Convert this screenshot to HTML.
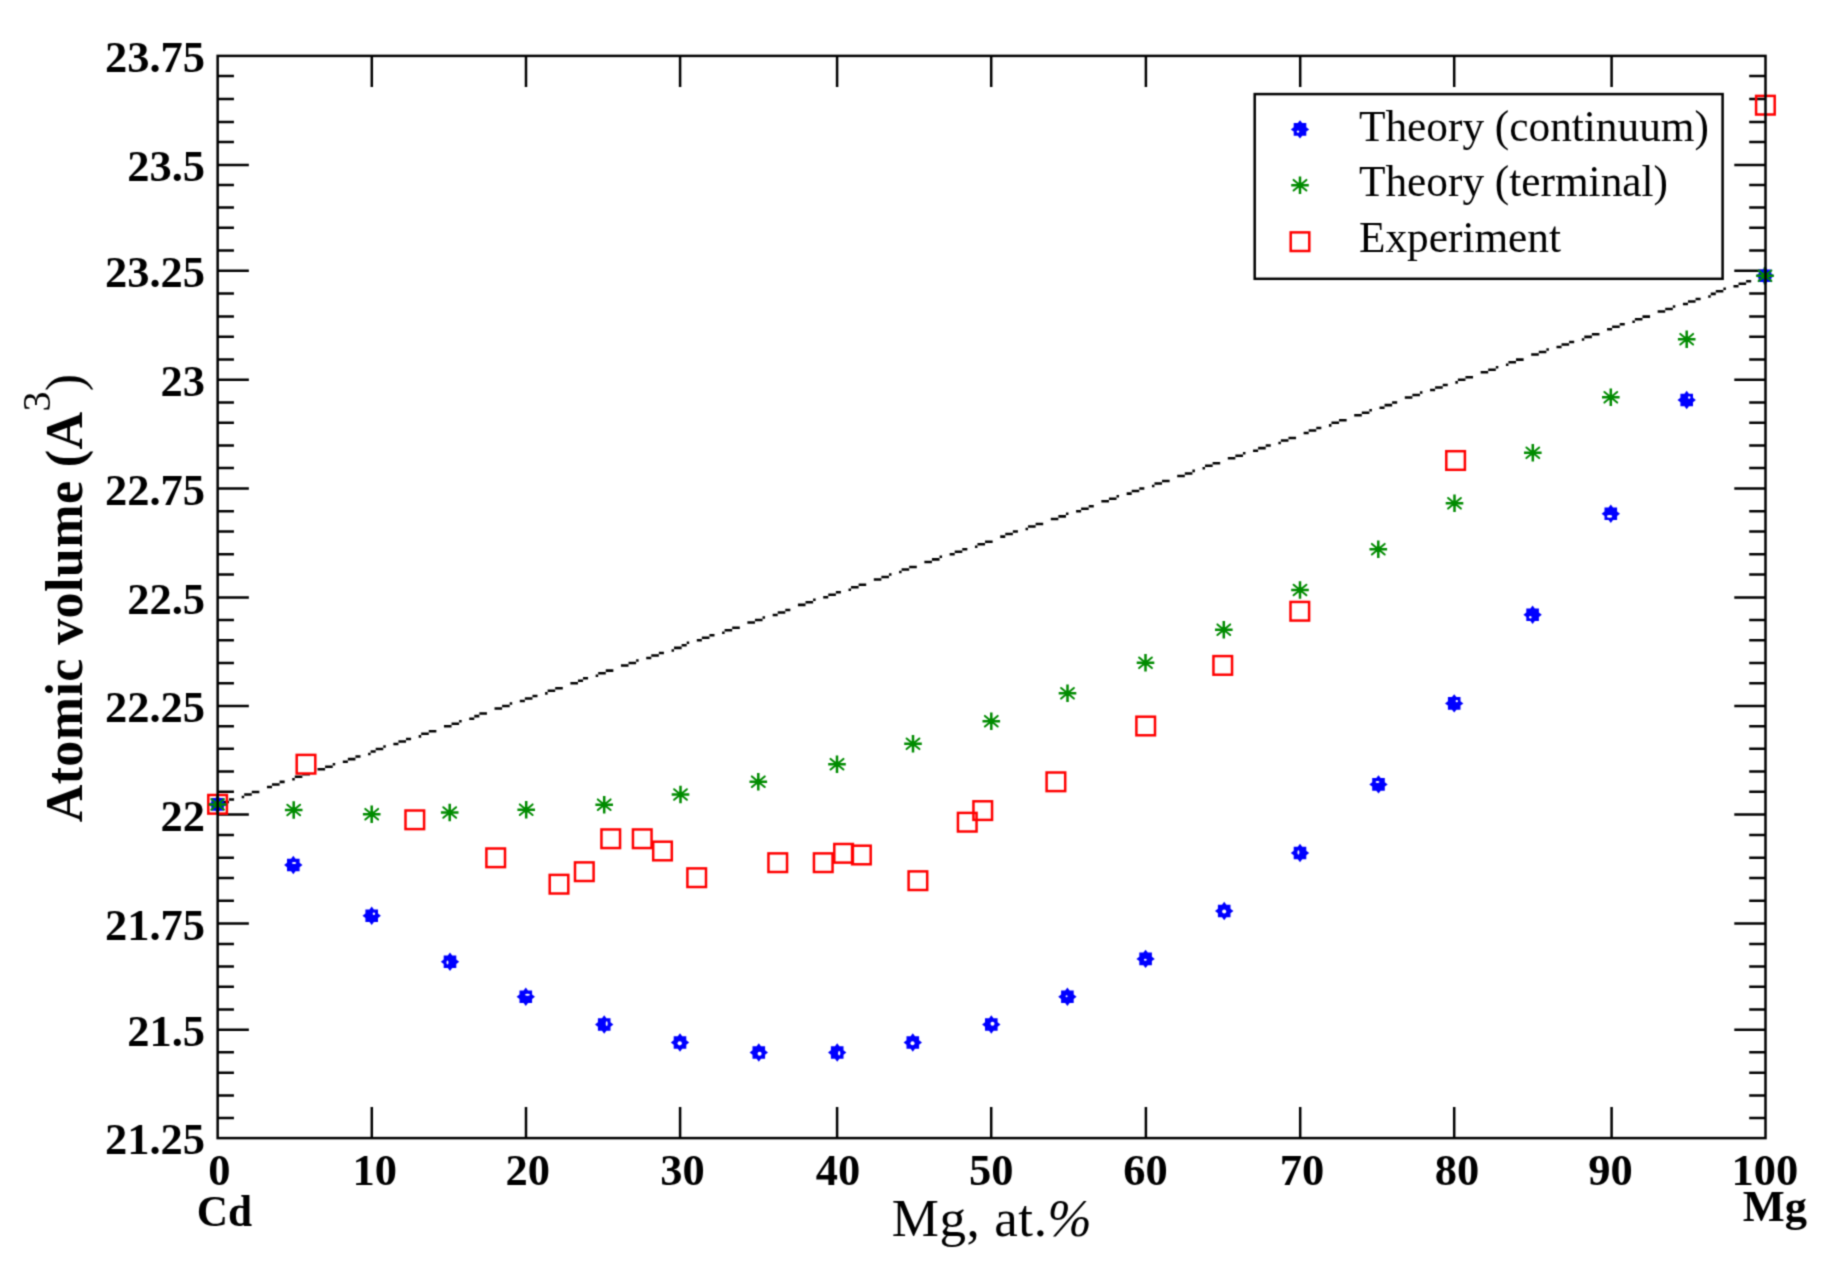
<!DOCTYPE html>
<html><head><meta charset="utf-8"><title>Atomic volume vs Mg at.%</title>
<style>
html,body{margin:0;padding:0;background:#fff;}
body{width:1824px;height:1277px;overflow:hidden;}
svg{display:block;}
.t{font-family:"Liberation Serif","Times New Roman",serif;fill:#000;}
.b{font-weight:bold;}
</style></head><body>
<svg width="1824" height="1277" viewBox="0 0 1824 1277">
<defs><filter id="soft" x="0" y="0" width="1824" height="1277" filterUnits="userSpaceOnUse" color-interpolation-filters="sRGB"><feConvolveMatrix order="3" kernelMatrix="0.03607 0.11778 0.03607 0.11778 0.38462 0.11778 0.03607 0.11778 0.03607" edgeMode="duplicate"/></filter></defs>
<g filter="url(#soft)">
<rect x="0" y="0" width="1824" height="1277" fill="#fff"/>
<defs>
<path id="mc" d="M0 -9.2 L2.2 -6.3 L6.3 -6.3 L6.3 -2.2 L9.2 0 L6.3 2.2 L6.3 6.3 L2.2 6.3 L0 9.2 L-2.2 6.3 L-6.3 6.3 L-6.3 2.2 L-9.2 0 L-6.3 -2.2 L-6.3 -6.3 L-2.2 -6.3Z" fill="#0000ff"/>
<g id="ma"><path d="M0 -8.8 V8.8 M-8.8 0 H8.8" stroke="#008b00" stroke-width="2.5" fill="none"/><path d="M-6.4 -5.3 L6.4 5.3 M-6.4 5.3 L6.4 -5.3" stroke="#008b00" stroke-width="2" stroke-linecap="round" fill="none"/><circle r="2.9" fill="#008b00"/></g>
<rect id="ms" x="-9.3" y="-9.3" width="18.6" height="18.6" fill="none" stroke="#ff0000" stroke-width="2.5"/>
</defs>
<path d="M217.65 76.1H233.95M1765.5 76.1H1749.2M217.65 99.1H233.95M1765.5 99.1H1749.2M217.65 121.9H233.95M1765.5 121.9H1749.2M217.65 142.05H233.95M1765.5 142.05H1749.2M217.65 164.9H248.85M1765.5 164.9H1734.3M217.65 185H233.95M1765.5 185H1749.2M217.65 207.6H233.95M1765.5 207.6H1749.2M217.65 227.8H233.95M1765.5 227.8H1749.2M217.65 250.6H233.95M1765.5 250.6H1749.2M217.65 270.75H248.85M1765.5 270.75H1734.3M217.65 293.6H233.95M1765.5 293.6H1749.2M217.65 316.6H233.95M1765.5 316.6H1749.2M217.65 336.7H233.95M1765.5 336.7H1749.2M217.65 359.55H233.95M1765.5 359.55H1749.2M217.65 379.7H248.85M1765.5 379.7H1734.3M217.65 402.4H233.95M1765.5 402.4H1749.2M217.65 422.7H233.95M1765.5 422.7H1749.2M217.65 445.4H233.95M1765.5 445.4H1749.2M217.65 468H233.95M1765.5 468H1749.2M217.65 488.4H248.85M1765.5 488.4H1734.3M217.65 511.2H233.95M1765.5 511.2H1749.2M217.65 531.4H233.95M1765.5 531.4H1749.2M217.65 554.2H233.95M1765.5 554.2H1749.2M217.65 574.4H233.95M1765.5 574.4H1749.2M217.65 597.4H248.85M1765.5 597.4H1734.3M217.65 619.9H233.95M1765.5 619.9H1749.2M217.65 640.35H233.95M1765.5 640.35H1749.2M217.65 662.9H233.95M1765.5 662.9H1749.2M217.65 683.3H233.95M1765.5 683.3H1749.2M217.65 705.9H248.85M1765.5 705.9H1734.3M217.65 726.3H233.95M1765.5 726.3H1749.2M217.65 748.75H233.95M1765.5 748.75H1749.2M217.65 771.6H233.95M1765.5 771.6H1749.2M217.65 791.75H233.95M1765.5 791.75H1749.2M217.65 814.6H248.85M1765.5 814.6H1734.3M217.65 835H233.95M1765.5 835H1749.2M217.65 857.85H233.95M1765.5 857.85H1749.2M217.65 878H233.95M1765.5 878H1749.2M217.65 900.85H233.95M1765.5 900.85H1749.2M217.65 923.4H248.85M1765.5 923.4H1734.3M217.65 943.9H233.95M1765.5 943.9H1749.2M217.65 966.4H233.95M1765.5 966.4H1749.2M217.65 986.7H233.95M1765.5 986.7H1749.2M217.65 1009.4H233.95M1765.5 1009.4H1749.2M217.65 1029.7H248.85M1765.5 1029.7H1734.3M217.65 1052.3H233.95M1765.5 1052.3H1749.2M217.65 1072.8H233.95M1765.5 1072.8H1749.2M217.65 1095.4H233.95M1765.5 1095.4H1749.2M217.65 1117.9H233.95M1765.5 1117.9H1749.2M371.8 1138.1V1106.9M371.8 55.9V87.1M526 1138.1V1106.9M526 55.9V87.1M680.1 1138.1V1106.9M680.1 55.9V87.1M837.1 1138.1V1106.9M837.1 55.9V87.1M991.2 1138.1V1106.9M991.2 55.9V87.1M1145.9 1138.1V1106.9M1145.9 55.9V87.1M1300.2 1138.1V1106.9M1300.2 55.9V87.1M1454.2 1138.1V1106.9M1454.2 55.9V87.1M1611.6 1138.1V1106.9M1611.6 55.9V87.1" stroke="#000" stroke-width="2.5" fill="none"/>
<path d="M216.39 803.37H221.44V805.9H216.39ZM221.44 800.84H229.03V803.37H221.44ZM229.03 798.31H234.09V800.84H229.03ZM241.67 795.79H244.2V798.31H241.67ZM244.2 793.26H251.78V795.79H244.2ZM251.78 790.73H259.37V793.26H251.78ZM266.96 785.67H272.01V788.2H266.96ZM272.01 783.14H279.6V785.67H272.01ZM279.6 780.62H284.66V783.14H279.6ZM292.24 778.09H294.77V780.62H292.24ZM294.77 775.56H302.35V778.09H294.77ZM302.35 773.03H309.94V775.56H302.35ZM317.53 767.97H325.11V770.5H317.53ZM325.11 765.44H332.7V767.97H325.11ZM332.7 762.92H335.23V765.44H332.7ZM342.81 760.39H347.87V762.92H342.81ZM347.87 757.86H355.45V760.39H347.87ZM355.45 755.33H360.51V757.86H355.45ZM368.1 752.8H370.62V755.33H368.1ZM370.62 750.27H375.68V752.8H370.62ZM375.68 747.74H383.27V750.27H375.68ZM383.27 745.22H385.8V747.74H383.27ZM393.38 742.69H398.44V745.22H393.38ZM398.44 740.16H406.02V742.69H398.44ZM406.02 737.63H411.08V740.16H406.02ZM418.67 735.1H421.19V737.63H418.67ZM421.19 732.57H428.78V735.1H421.19ZM428.78 730.05H436.37V732.57H428.78ZM443.95 724.99H451.54V727.52H443.95ZM451.54 722.46H459.12V724.99H451.54ZM459.12 719.93H461.65V722.46H459.12ZM469.24 717.4H474.29V719.93H469.24ZM474.29 714.87H479.35V717.4H474.29ZM479.35 712.35H486.94V714.87H479.35ZM494.52 707.29H502.11V709.82H494.52ZM502.11 704.76H509.69V707.29H502.11ZM509.69 702.23H512.22V704.76H509.69ZM519.81 699.7H524.86V702.23H519.81ZM524.86 697.17H532.45V699.7H524.86ZM532.45 694.65H537.51V697.17H532.45ZM545.09 692.12H547.62V694.65H545.09ZM547.62 689.59H555.2V692.12H547.62ZM555.2 687.06H562.79V689.59H555.2ZM570.38 682H577.96V684.53H570.38ZM577.96 679.48H583.02V682H577.96ZM583.02 676.95H588.08V679.48H583.02ZM595.66 674.42H598.19V676.95H595.66ZM598.19 671.89H605.77V674.42H598.19ZM605.77 669.36H613.36V671.89H605.77ZM620.95 664.3H628.53V666.83H620.95ZM628.53 661.78H636.12V664.3H628.53ZM636.12 659.25H638.65V661.78H636.12ZM646.23 656.72H651.29V659.25H646.23ZM651.29 654.19H658.87V656.72H651.29ZM658.87 651.66H663.93V654.19H658.87ZM671.52 649.13H674.04V651.66H671.52ZM674.04 646.6H681.63V649.13H674.04ZM681.63 644.08H686.69V646.6H681.63ZM686.69 641.55H689.22V644.08H686.69ZM696.8 639.02H701.86V641.55H696.8ZM701.86 636.49H709.44V639.02H701.86ZM709.44 633.96H714.5V636.49H709.44ZM722.09 631.43H724.61V633.96H722.09ZM724.61 628.91H732.2V631.43H724.61ZM732.2 626.38H739.79V628.91H732.2ZM747.37 621.32H754.96V623.85H747.37ZM754.96 618.79H762.54V621.32H754.96ZM762.54 616.26H765.07V618.79H762.54ZM772.66 613.73H777.71V616.26H772.66ZM777.71 611.21H785.3V613.73H777.71ZM785.3 608.68H790.36V611.21H785.3ZM797.94 603.62H805.53V606.15H797.94ZM805.53 601.09H813.11V603.62H805.53ZM813.11 598.56H815.64V601.09H813.11ZM823.23 596.03H828.28V598.56H823.23ZM828.28 593.51H835.87V596.03H828.28ZM835.87 590.98H840.93V593.51H835.87ZM848.51 588.45H851.04V590.98H848.51ZM851.04 585.92H858.62V588.45H851.04ZM858.62 583.39H866.21V585.92H858.62ZM873.8 578.34H881.38V580.86H873.8ZM881.38 575.81H888.97V578.34H881.38ZM888.97 573.28H891.5V575.81H888.97ZM899.08 570.75H901.61V573.28H899.08ZM901.61 568.22H909.19V570.75H901.61ZM909.19 565.69H916.78V568.22H909.19ZM924.37 560.64H931.95V563.16H924.37ZM931.95 558.11H939.54V560.64H931.95ZM939.54 555.58H942.07V558.11H939.54ZM949.65 553.05H954.71V555.58H949.65ZM954.71 550.52H962.29V553.05H954.71ZM962.29 547.99H967.35V550.52H962.29ZM974.94 545.46H977.46V547.99H974.94ZM977.46 542.94H985.05V545.46H977.46ZM985.05 540.41H992.64V542.94H985.05ZM1000.22 535.35H1005.28V537.88H1000.22ZM1005.28 532.82H1012.86V535.35H1005.28ZM1012.86 530.29H1017.92V532.82H1012.86ZM1025.51 527.77H1028.03V530.29H1025.51ZM1028.03 525.24H1035.62V527.77H1028.03ZM1035.62 522.71H1043.21V525.24H1035.62ZM1050.79 517.65H1058.38V520.18H1050.79ZM1058.38 515.12H1065.96V517.65H1058.38ZM1065.96 512.59H1068.49V515.12H1065.96ZM1076.08 510.07H1081.13V512.59H1076.08ZM1081.13 507.54H1088.72V510.07H1081.13ZM1088.72 505.01H1093.78V507.54H1088.72ZM1101.36 499.95H1108.95V502.48H1101.36ZM1108.95 497.42H1116.53V499.95H1108.95ZM1116.53 494.89H1119.06V497.42H1116.53ZM1126.65 492.37H1131.7V494.89H1126.65ZM1131.7 489.84H1139.29V492.37H1131.7ZM1139.29 487.31H1144.35V489.84H1139.29ZM1151.93 484.78H1154.46V487.31H1151.93ZM1154.46 482.25H1162.04V484.78H1154.46ZM1162.04 479.72H1169.63V482.25H1162.04ZM1177.22 474.67H1184.8V477.2H1177.22ZM1184.8 472.14H1192.39V474.67H1184.8ZM1192.39 469.61H1194.92V472.14H1192.39ZM1202.5 467.08H1205.03V469.61H1202.5ZM1205.03 464.55H1212.61V467.08H1205.03ZM1212.61 462.02H1220.2V464.55H1212.61ZM1227.79 456.97H1235.37V459.5H1227.79ZM1235.37 454.44H1242.96V456.97H1235.37ZM1242.96 451.91H1245.49V454.44H1242.96ZM1253.07 449.38H1258.13V451.91H1253.07ZM1258.13 446.85H1265.71V449.38H1258.13ZM1265.71 444.32H1270.77V446.85H1265.71ZM1278.36 441.8H1280.88V444.32H1278.36ZM1280.88 439.27H1288.47V441.8H1280.88ZM1288.47 436.74H1296.06V439.27H1288.47ZM1303.64 431.68H1308.7V434.21H1303.64ZM1308.7 429.15H1316.28V431.68H1308.7ZM1316.28 426.63H1321.34V429.15H1316.28ZM1328.93 424.1H1331.45V426.63H1328.93ZM1331.45 421.57H1339.04V424.1H1331.45ZM1339.04 419.04H1346.63V421.57H1339.04ZM1354.21 413.98H1361.8V416.51H1354.21ZM1361.8 411.45H1369.38V413.98H1361.8ZM1369.38 408.93H1371.91V411.45H1369.38ZM1379.5 406.4H1384.55V408.93H1379.5ZM1384.55 403.87H1392.14V406.4H1384.55ZM1392.14 401.34H1397.2V403.87H1392.14ZM1404.78 396.28H1412.37V398.81H1404.78ZM1412.37 393.75H1419.95V396.28H1412.37ZM1419.95 391.23H1422.48V393.75H1419.95ZM1430.07 388.7H1435.12V391.23H1430.07ZM1435.12 386.17H1442.71V388.7H1435.12ZM1442.71 383.64H1447.77V386.17H1442.71ZM1455.35 381.11H1457.88V383.64H1455.35ZM1457.88 378.58H1465.46V381.11H1457.88ZM1465.46 376.06H1473.05V378.58H1465.46ZM1480.64 371H1488.22V373.53H1480.64ZM1488.22 368.47H1495.81V371H1488.22ZM1495.81 365.94H1498.34V368.47H1495.81ZM1505.92 363.41H1508.45V365.94H1505.92ZM1508.45 360.88H1516.03V363.41H1508.45ZM1516.03 358.36H1523.62V360.88H1516.03ZM1531.21 353.3H1538.79V355.83H1531.21ZM1538.79 350.77H1546.38V353.3H1538.79ZM1546.38 348.24H1548.91V350.77H1546.38ZM1556.49 345.71H1561.55V348.24H1556.49ZM1561.55 343.18H1569.13V345.71H1561.55ZM1569.13 340.66H1574.19V343.18H1569.13ZM1581.78 338.13H1584.3V340.66H1581.78ZM1584.3 335.6H1591.89V338.13H1584.3ZM1591.89 333.07H1599.48V335.6H1591.89ZM1607.06 328.01H1612.12V330.54H1607.06ZM1612.12 325.49H1619.7V328.01H1612.12ZM1619.7 322.96H1624.76V325.49H1619.7ZM1632.35 320.43H1634.87V322.96H1632.35ZM1634.87 317.9H1642.46V320.43H1634.87ZM1642.46 315.37H1650.05V317.9H1642.46ZM1657.63 310.31H1665.22V312.84H1657.63ZM1665.22 307.79H1672.8V310.31H1665.22ZM1672.8 305.26H1675.33V307.79H1672.8ZM1682.92 302.73H1687.97V305.26H1682.92ZM1687.97 300.2H1695.56V302.73H1687.97ZM1695.56 297.67H1700.62V300.2H1695.56ZM1708.2 295.14H1710.73V297.67H1708.2ZM1710.73 292.61H1715.79V295.14H1710.73ZM1715.79 290.09H1723.37V292.61H1715.79ZM1723.37 287.56H1725.9V290.09H1723.37ZM1733.49 285.03H1738.54V287.56H1733.49ZM1738.54 282.5H1746.13V285.03H1738.54ZM1746.13 279.97H1751.19V282.5H1746.13ZM1758.77 277.44H1761.3V279.97H1758.77ZM1761.3 274.92H1766.36V277.44H1761.3Z" fill="#000"/>
<use href="#ms" x="217.6" y="804.3"/><use href="#ms" x="306" y="764.2"/><use href="#ms" x="414.8" y="819.8"/><use href="#ms" x="495.7" y="857.8"/><use href="#ms" x="559" y="884.2"/><use href="#ms" x="584.3" y="871.7"/><use href="#ms" x="610.75" y="838.75"/><use href="#ms" x="642.25" y="838.75"/><use href="#ms" x="662.5" y="851"/><use href="#ms" x="696.7" y="877.7"/><use href="#ms" x="777.75" y="862.7"/><use href="#ms" x="823.25" y="862.7"/><use href="#ms" x="843.6" y="853.3"/><use href="#ms" x="861.4" y="855"/><use href="#ms" x="917.9" y="880.7"/><use href="#ms" x="967.25" y="822.2"/><use href="#ms" x="982.75" y="810.6"/><use href="#ms" x="1055.9" y="781.8"/><use href="#ms" x="1145.7" y="726"/><use href="#ms" x="1222.75" y="665.4"/><use href="#ms" x="1299.8" y="611.25"/><use href="#ms" x="1455.6" y="460.5"/><use href="#ms" x="1765.4" y="105.2"/>
<use href="#mc" x="217.6" y="804.4"/><use href="#mc" x="293.3" y="865"/><ellipse cx="294.1" cy="863" rx="2.16" ry="0.96" fill="#fff"/><use href="#mc" x="371.7" y="915.8"/><ellipse cx="373.9" cy="913.8" rx="1.2" ry="1.2" fill="#fff"/><use href="#mc" x="450" y="961.7"/><ellipse cx="447.5" cy="962.5" rx="0.96" ry="1.92" fill="#fff"/><use href="#mc" x="525.8" y="996.7"/><ellipse cx="527.5" cy="994.7" rx="2.4" ry="0.96" fill="#fff"/><use href="#mc" x="604.2" y="1024.5"/><ellipse cx="606.7" cy="1023.7" rx="0.96" ry="2.4" fill="#fff"/><use href="#mc" x="680" y="1042.5"/><ellipse cx="679.7" cy="1043.3" rx="2.16" ry="2.16" fill="#fff"/><use href="#mc" x="758.8" y="1052.5"/><ellipse cx="759.6" cy="1053.7" rx="2.04" ry="2.04" fill="#fff"/><use href="#mc" x="837.2" y="1052.5"/><ellipse cx="839.2" cy="1053.3" rx="1.08" ry="2.28" fill="#fff"/><use href="#mc" x="912.8" y="1042.5"/><ellipse cx="912.5" cy="1043.3" rx="2.04" ry="2.04" fill="#fff"/><use href="#mc" x="991.3" y="1024.5"/><ellipse cx="992.5" cy="1023.7" rx="2.04" ry="2.04" fill="#fff"/><use href="#mc" x="1067.4" y="996.7"/><ellipse cx="1066.6" cy="996.2" rx="0.96" ry="0.96" fill="#fff"/><use href="#mc" x="1145.6" y="958.9"/><ellipse cx="1145.3" cy="959.7" rx="1.44" ry="0.96" fill="#fff"/><use href="#mc" x="1224.2" y="911"/><ellipse cx="1224.2" cy="911.5" rx="2.04" ry="2.04" fill="#fff"/><use href="#mc" x="1300" y="853"/><ellipse cx="1298.4" cy="852.5" rx="0.96" ry="2.16" fill="#fff"/><use href="#mc" x="1378.5" y="784.4"/><ellipse cx="1377.5" cy="782" rx="1.92" ry="0.96" fill="#fff"/><use href="#mc" x="1454.2" y="703.4"/><ellipse cx="1456.8" cy="701.1" rx="1.2" ry="1.2" fill="#fff"/><use href="#mc" x="1532.6" y="614.8"/><ellipse cx="1530.3" cy="617.2" rx="1.2" ry="1.2" fill="#fff"/><use href="#mc" x="1610.8" y="513.8"/><ellipse cx="1609.55" cy="516.4" rx="2.64" ry="1.32" fill="#fff"/><use href="#mc" x="1686.7" y="400"/><ellipse cx="1689.2" cy="397.5" rx="1.2" ry="1.2" fill="#fff"/><use href="#mc" x="1765" y="275.8"/>
<use href="#ma" x="217.6" y="804.4"/><use href="#ma" x="293.7" y="810"/><use href="#ma" x="371.7" y="814.2"/><use href="#ma" x="449.7" y="812.5"/><use href="#ma" x="526.2" y="809.7"/><use href="#ma" x="604.2" y="804.7"/><use href="#ma" x="680.5" y="794.5"/><use href="#ma" x="758.3" y="781.7"/><use href="#ma" x="837" y="764.2"/><use href="#ma" x="913" y="743.8"/><use href="#ma" x="991.3" y="721.2"/><use href="#ma" x="1067.5" y="693.3"/><use href="#ma" x="1145.5" y="662.8"/><use href="#ma" x="1223.8" y="629.7"/><use href="#ma" x="1300" y="590"/><use href="#ma" x="1378.3" y="549.2"/><use href="#ma" x="1454.5" y="503.3"/><use href="#ma" x="1532.8" y="452.8"/><use href="#ma" x="1610.8" y="397.3"/><use href="#ma" x="1686.7" y="339.2"/><use href="#ma" x="1765" y="275.8"/>
<rect x="217.65" y="55.9" width="1547.85" height="1082.2" fill="none" stroke="#000" stroke-width="2.5"/>
<text class="t b" x="205" y="1154.3" font-size="44.5" text-anchor="end">21.25</text>
<text class="t b" x="205" y="1045.9" font-size="44.5" text-anchor="end">21.5</text>
<text class="t b" x="205" y="939.6" font-size="44.5" text-anchor="end">21.75</text>
<text class="t b" x="205" y="830.8" font-size="44.5" text-anchor="end">22</text>
<text class="t b" x="205" y="722.1" font-size="44.5" text-anchor="end">22.25</text>
<text class="t b" x="205" y="613.6" font-size="44.5" text-anchor="end">22.5</text>
<text class="t b" x="205" y="504.6" font-size="44.5" text-anchor="end">22.75</text>
<text class="t b" x="205" y="395.9" font-size="44.5" text-anchor="end">23</text>
<text class="t b" x="205" y="286.95" font-size="44.5" text-anchor="end">23.25</text>
<text class="t b" x="205" y="181.1" font-size="44.5" text-anchor="end">23.5</text>
<text class="t b" x="205" y="72.1" font-size="44.5" text-anchor="end">23.75</text>
<text class="t b" x="219.4" y="1185" font-size="44.5" text-anchor="middle">0</text>
<text class="t b" x="374.75" y="1185" font-size="44.5" text-anchor="middle">10</text>
<text class="t b" x="527.75" y="1185" font-size="44.5" text-anchor="middle">20</text>
<text class="t b" x="682.55" y="1185" font-size="44.5" text-anchor="middle">30</text>
<text class="t b" x="838.1" y="1185" font-size="44.5" text-anchor="middle">40</text>
<text class="t b" x="991.2" y="1185" font-size="44.5" text-anchor="middle">50</text>
<text class="t b" x="1145.55" y="1185" font-size="44.5" text-anchor="middle">60</text>
<text class="t b" x="1301.9" y="1185" font-size="44.5" text-anchor="middle">70</text>
<text class="t b" x="1456.95" y="1185" font-size="44.5" text-anchor="middle">80</text>
<text class="t b" x="1610.55" y="1185" font-size="44.5" text-anchor="middle">90</text>
<text class="t b" x="1764.85" y="1185" font-size="44.5" text-anchor="middle">100</text>
<text class="t b" x="224.4" y="1226" font-size="43.3" text-anchor="middle">Cd</text>
<text class="t b" x="1775" y="1221" font-size="44.5" text-anchor="middle">Mg</text>
<text class="t" x="992" y="1235.7" font-size="53" letter-spacing="0.6" text-anchor="middle">Mg, at.<tspan font-style="italic">%</tspan></text>
<text class="t b" transform="translate(82 822.3) rotate(-90)" x="0" y="0" font-size="52" letter-spacing="0.4">Atomic volume (A<tspan font-size="40" font-weight="normal" dy="-32">3</tspan><tspan font-weight="normal" dy="32">)</tspan></text>
<rect x="1254.7" y="94.1" width="467.9" height="184.7" fill="#fff" stroke="#000" stroke-width="2.5"/>
<use href="#mc" x="1300" y="129.4"/><ellipse cx="1298" cy="131.6" rx="1.2" ry="1.2" fill="#fff"/><use href="#ma" x="1300" y="185.2"/><use href="#ms" x="1300" y="241.7"/>
<text class="t" x="1359" y="140.6" font-size="43.3">Theory (continuum)</text>
<text class="t" x="1359" y="196.2" font-size="43.3">Theory (terminal)</text>
<text class="t" x="1359" y="251.6" font-size="43.3">Experiment</text>
</g>
</svg>
</body></html>
